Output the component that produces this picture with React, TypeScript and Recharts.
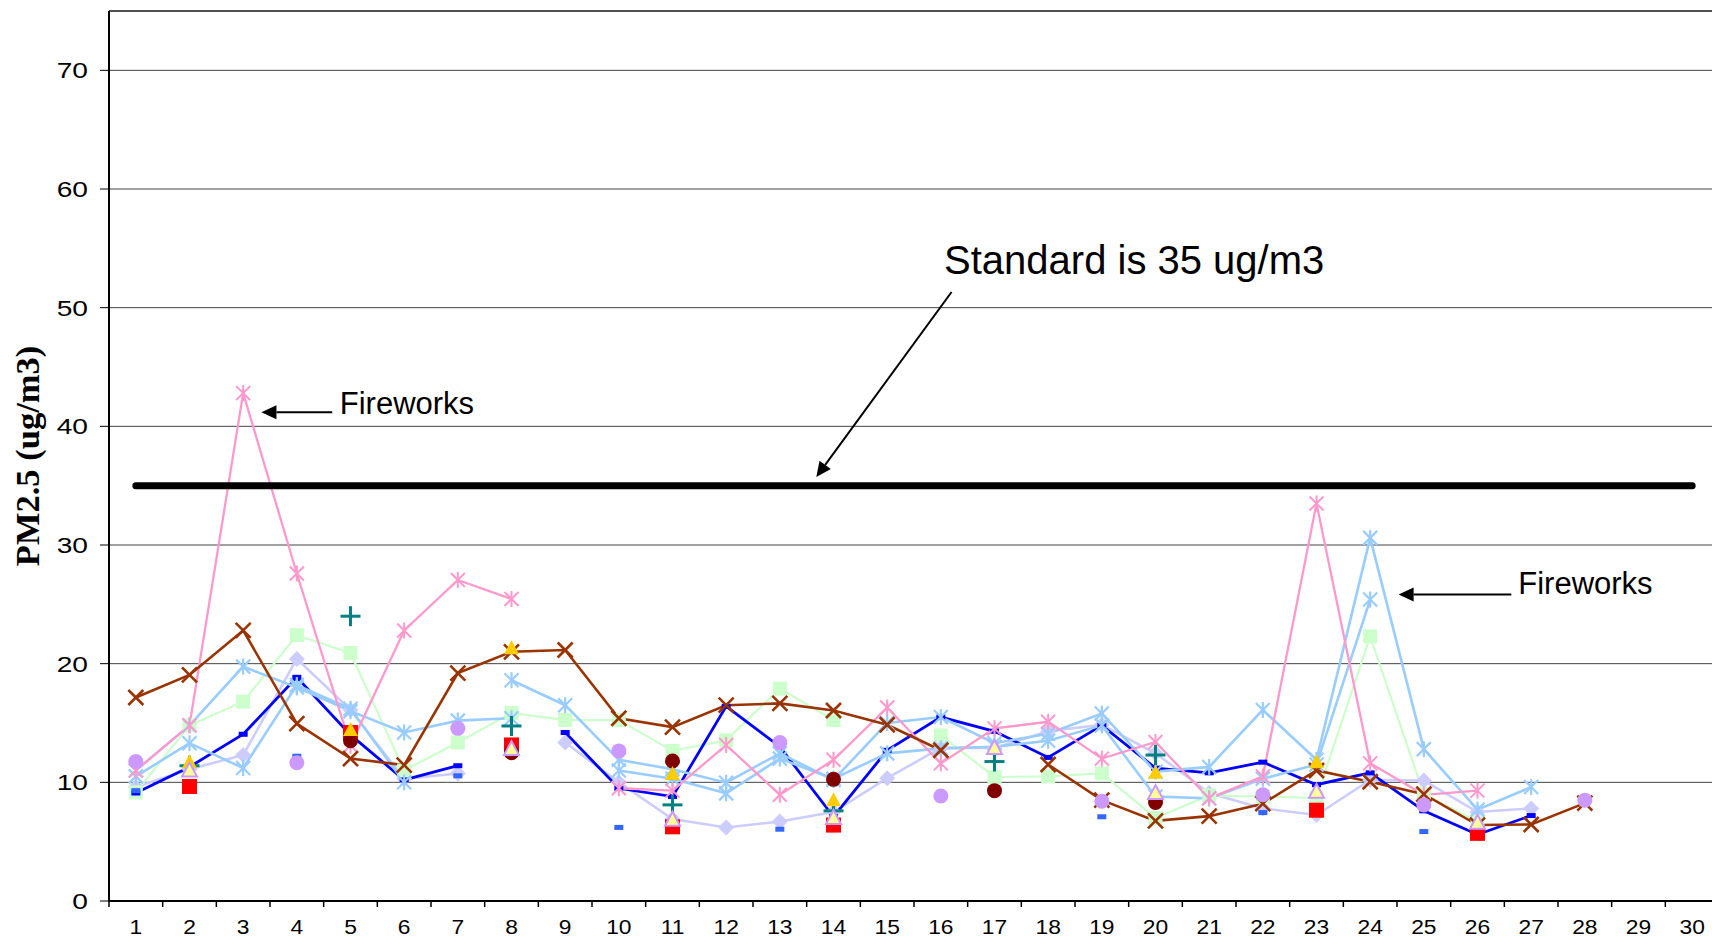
import React from 'react';
import { LineChart, Line, XAxis, YAxis, CartesianGrid, ReferenceLine, ReferenceDot } from 'recharts';

// ---------- data ----------
const days = [1, 2, 3, 4, 5, 6, 7, 8, 9, 10, 11, 12, 13, 14, 15, 16, 17, 18, 19, 20, 21, 22, 23, 24, 25, 26, 27, 28, 29, 30];
const yTicks = [0, 10, 20, 30, 40, 50, 60, 70];
const standardValue = 35;

const siteDarkBlue = [9.1, 11.3, 14.05, 18.85, 14.0, 10.2, 11.4, null, 14.2, 9.5, 8.8, 16.4, 13.0, 7.1, 12.7, 15.5, 14.3, 12.1, 14.8, 11.2, 10.8, 11.7, 9.8, 10.8, 7.6, 5.6, 7.2, null, null, null];
const sitePink = [11.0, 14.8, 42.8, 27.6, 13.1, 22.8, 27.05, 25.45, null, 9.5, 9.3, 13.15, 8.95, 11.9, 16.3, 11.6, 14.55, 15.1, 12.0, 13.4, 8.65, 10.5, 33.5, 11.6, 8.95, 9.3, null, null, null, null];
const siteBrown = [17.15, 19.05, 22.8, 14.95, 12.0, 11.45, 19.2, 21.0, 21.15, 15.4, 14.65, 16.5, 16.65, 16.05, 14.85, 12.7, null, 11.5, 8.5, 6.75, 7.15, 8.2, 11.0, 10.05, 9.0, 6.4, 6.45, 8.25, null, null];
const siteGreen = [9.15, 14.8, 16.8, 22.4, 20.9, 11.0, 13.35, 15.85, 15.25, 15.25, 12.65, 13.55, 17.9, 15.25, null, 13.95, 10.45, 10.5, 10.75, 7.0, 8.9, 8.8, 8.7, 22.3, 9.0, 6.7, null, null, null, null];
const siteLavender = [9.6, 11.1, 12.3, 20.4, 16.1, 10.3, 10.75, null, 13.35, 10.0, 6.9, 6.2, 6.7, 7.5, 10.35, 12.9, 12.9, 14.3, 14.85, 12.45, 9.1, 7.8, 7.25, 10.2, 10.15, 7.5, 7.8, null, null, null];
const siteLightBlueA = [10.5, 13.3, 11.2, 18.2, 16.2, 10.0, null, 18.6, 16.5, 11.9, 11.1, 9.97, 12.44, 10.2, 15.0, 15.5, 13.3, 14.1, 15.8, 10.9, 11.3, 16.1, 11.9, 30.6, 12.8, 7.7, 9.6, null, null, null];
const siteLightBlueB = [11.0, 14.8, 19.75, 18.0, 16.0, 14.2, 15.2, 15.4, null, 11.0, 10.3, 9.07, 12.0, 10.3, 12.44, 12.86, 13.0, 13.5, 14.8, 8.8, 8.65, 10.3, 11.5, 25.4, null, null, null, null, null, null];
const siteBlueDash = [9.3, null, null, 12.2, null, null, 10.55, null, null, 6.2, null, null, 6.05, null, null, 8.95, null, null, 7.1, null, null, 7.45, null, null, 5.85, null, null, null, null, null];
const siteRed = [null, 9.65, null, null, 14.2, null, null, 13.15, null, null, 6.25, null, null, 6.4, null, null, null, null, null, null, null, null, 7.65, null, null, 5.7, null, null, null, null];
const siteMaroon = [null, null, null, null, 13.5, null, null, 12.5, null, null, 11.8, null, null, 10.25, null, null, 9.3, null, null, 8.3, null, null, null, null, null, null, null, null, null, null];
const siteGold = [null, 11.7, null, null, 14.4, null, null, 21.3, null, null, 10.7, null, null, 8.5, null, null, null, null, null, 10.8, null, null, 11.7, null, null, null, null, null, null, null];
const siteTeal = [null, 11.4, null, null, 24.0, null, null, 14.75, null, null, 8.1, null, null, 7.6, null, null, 11.75, null, null, 12.3, null, null, null, null, null, null, null, null, null, null];
const siteLavTriangle = [null, 11.0, null, null, null, null, null, 12.8, null, null, 6.85, null, null, 7.0, null, null, 12.9, null, null, 9.1, null, null, 9.2, null, null, 6.6, null, null, null, null];
const sitePurple = [11.75, null, null, 11.65, null, null, 14.55, null, null, 12.65, null, null, 13.35, null, null, 8.85, null, null, 8.4, null, null, 8.95, null, null, 8.1, null, null, 8.5, null, null];

// annotations, in data coordinates (day, value)
const annotationTexts = [
  { text: 'Standard is 35 ug/m3', day: 16.06, value: 52.87, size: 40 },
  { text: 'Fireworks', day: 4.8, value: 41.07, size: 31 },
  { text: 'Fireworks', day: 26.76, value: 25.9, size: 31 },
];
const annotationArrows = [
  { fromDay: 16.2, fromValue: 51.32, toDay: 13.68, toValue: 35.73 },
  { fromDay: 4.66, fromValue: 41.18, toDay: 3.34, toValue: 41.18 },
  { fromDay: 26.63, fromValue: 25.82, toDay: 24.53, toValue: 25.82 },
];

const data = days.map((d, i) => ({
  day: d,
  lavender: siteLavender[i],
  green: siteGreen[i],
  lightBlueB: siteLightBlueB[i],
  lightBlueA: siteLightBlueA[i],
  darkBlue: siteDarkBlue[i],
  pink: sitePink[i],
  brown: siteBrown[i],
  red: siteRed[i],
  maroon: siteMaroon[i],
  teal: siteTeal[i],
  gold: siteGold[i],
  lavTri: siteLavTriangle[i],
  blueDash: siteBlueDash[i],
  purple: sitePurple[i],
}));

// ---------- layout ----------
const CHART_W = 1719;
const CHART_H = 938;
const Y_AXIS_W = 109;
const X_AXIS_H = 37;
const TOP = 11;
const PLOT_W = CHART_W - Y_AXIS_W;
const BAND = PLOT_W / days.length;
const SANS = "'Liberation Sans', Arial, sans-serif";
const SERIF = "'Liberation Serif', 'Times New Roman', serif";

// ---------- markers ----------
type Draw = (x: number, y: number) => React.ReactNode;
const makeDot = (name: string, draw: Draw) => (props: any) => {
  const { cx, cy, index, value } = props;
  const k = `${name}-${index}`;
  if (value === null || value === undefined || cx == null || cy == null || isNaN(cx) || isNaN(cy)) return <g key={k} />;
  return <g key={k}>{draw(cx, cy)}</g>;
};

const asterisk = (c: string, h = 7, w = 2): Draw => (x, y) => (
  <g stroke={c} strokeWidth={w}>
    <line x1={x - h} y1={y - h} x2={x + h} y2={y + h} />
    <line x1={x - h} y1={y + h} x2={x + h} y2={y - h} />
    <line x1={x} y1={y - h - 1} x2={x} y2={y + h + 1} />
  </g>
);
const cross = (c: string, h = 7.5, w = 2.6): Draw => (x, y) => (
  <g stroke={c} strokeWidth={w}>
    <line x1={x - h} y1={y - h} x2={x + h} y2={y + h} />
    <line x1={x - h} y1={y + h} x2={x + h} y2={y - h} />
  </g>
);
const square = (c: string, s = 15): Draw => (x, y) => <rect x={x - s / 2} y={y - s / 2} width={s} height={s} fill={c} />;
const diamond = (c: string, h = 8): Draw => (x, y) => (
  <polygon points={`${x},${y - h} ${x + h},${y} ${x},${y + h} ${x - h},${y}`} fill={c} />
);
const circle = (c: string, r = 7.5): Draw => (x, y) => <circle cx={x} cy={y} r={r} fill={c} />;
const triangle = (fill: string, stroke = 'none', sw = 0): Draw => (x, y) => (
  <polygon points={`${x},${y - 8} ${x + 7.5},${y + 6} ${x - 7.5},${y + 6}`} fill={fill} stroke={stroke} strokeWidth={sw} />
);
const plus = (c: string, h = 10, w = 3): Draw => (x, y) => (
  <g stroke={c} strokeWidth={w}>
    <line x1={x - h} y1={y} x2={x + h} y2={y} />
    <line x1={x} y1={y - h} x2={x} y2={y + h} />
  </g>
);
const dash = (c: string): Draw => (x, y) => <rect x={x - 4.5} y={y - 2.5} width={9} height={5} fill={c} />;

// ---------- axis pieces ----------
const renderYTick = (props: any) => {
  const { x, y, payload } = props;
  return (
    <text transform={`translate(${x},${y}) scale(1.28,1)`} textAnchor="end" dy="0.36em" fontFamily={SANS} fontSize={22} fill="#000">
      {payload.value}
    </text>
  );
};

const renderXTick = (props: any) => {
  const { x, y, payload } = props;
  const bx = x - BAND / 2;
  return (
    <g>
      <line x1={bx} y1={y} x2={bx} y2={y + 6} stroke="#000" strokeWidth={1.5} />
      <text transform={`translate(${x},${y + 33}) scale(1.17,1)`} textAnchor="middle" fontFamily={SANS} fontSize={19.5} fill="#000">
        {payload.value}
      </text>
    </g>
  );
};

const renderYLabel = (props: any) => {
  const vb = props.viewBox || { x: 0, y: TOP, width: Y_AXIS_W, height: CHART_H - TOP - X_AXIS_H };
  const cx = vb.x + 39;
  const cy = vb.y + vb.height / 2;
  return (
    <text x={cx} y={cy} transform={`rotate(-90 ${cx} ${cy})`} textAnchor="middle" fontFamily={SERIF} fontWeight="bold" fontSize={34.5} fill="#000">
      PM2.5 (ug/m3)
    </text>
  );
};

const arrowShape = (props: any) => {
  const { x1, y1, x2, y2 } = props;
  const ang = Math.atan2(y2 - y1, x2 - x1);
  const L = 15;
  const W = 7;
  const bx = x2 - L * Math.cos(ang);
  const by = y2 - L * Math.sin(ang);
  const p1x = bx + W * Math.sin(ang);
  const p1y = by - W * Math.cos(ang);
  const p2x = bx - W * Math.sin(ang);
  const p2y = by + W * Math.cos(ang);
  return (
    <g>
      <line x1={x1} y1={y1} x2={bx} y2={by} stroke="#000" strokeWidth={2} />
      <polygon points={`${x2},${y2} ${p1x},${p1y} ${p2x},${p2y}`} fill="#000" />
    </g>
  );
};

const standardShape = (props: any) => {
  const { x1, y1, x2, y2 } = props;
  return <line x1={x1} y1={y1} x2={x2} y2={y2} stroke="#000" strokeWidth={7} strokeLinecap="round" />;
};

export default function App() {
  return (
    <div style={{ position: 'absolute', left: 0, top: 0, width: 1712, height: 938, overflow: 'hidden', background: '#fff' }}>
      <LineChart width={CHART_W} height={CHART_H} data={data} margin={{ top: TOP, right: 0, bottom: 0, left: 0 }}>
        <CartesianGrid vertical={false} stroke="#444" strokeWidth={1} />
        <XAxis
          dataKey="day"
          type="number"
          domain={[0.5, 30.5]}
          ticks={days}
          interval={0}
          allowDataOverflow
          height={X_AXIS_H}
          tickSize={0}
          tickMargin={0}
          tickLine={false}
          axisLine={{ stroke: '#000', strokeWidth: 2 }}
          tick={renderXTick}
        />
        <YAxis
          type="number"
          domain={[0, 75]}
          ticks={yTicks}
          interval={0}
          width={Y_AXIS_W}
          tickSize={9}
          tickMargin={12}
          tickLine={{ stroke: '#000', strokeWidth: 1 }}
          axisLine={{ stroke: '#000', strokeWidth: 2 }}
          tick={renderYTick}
          label={renderYLabel}
        />
        <ReferenceLine y={75} stroke="#000" strokeWidth={1} />

        <Line dataKey="lavender" type="linear" stroke="#CCCCFF" strokeWidth={2.6} dot={makeDot('lav', diamond('#CCCCFF'))} activeDot={false} isAnimationActive={false} />
        <Line dataKey="green" type="linear" stroke="#CCFFCC" strokeWidth={2.2} dot={makeDot('grn', square('#CCFFCC', 14))} activeDot={false} isAnimationActive={false} />
        <Line dataKey="darkBlue" type="linear" stroke="#0000FF" strokeWidth={2.8} dot={makeDot('dbl', dash('#0000FF'))} activeDot={false} isAnimationActive={false} />
        <Line dataKey="lightBlueB" type="linear" stroke="#99CCFF" strokeWidth={2.6} dot={makeDot('lbb', asterisk('#99CCFF', 7, 2.2))} activeDot={false} isAnimationActive={false} />
        <Line dataKey="lightBlueA" type="linear" stroke="#99CCFF" strokeWidth={2.6} dot={makeDot('lba', asterisk('#99CCFF', 7, 2.2))} activeDot={false} isAnimationActive={false} />
        <Line dataKey="pink" type="linear" stroke="#FF99CC" strokeWidth={2.3} dot={makeDot('pnk', asterisk('#FF99CC', 7, 2))} activeDot={false} isAnimationActive={false} />
        <Line dataKey="brown" type="linear" stroke="#993300" strokeWidth={2.6} dot={makeDot('brn', cross('#993300'))} activeDot={false} isAnimationActive={false} />
        <Line dataKey="red" type="linear" stroke="none" dot={makeDot('red', square('#FF0000', 15))} activeDot={false} isAnimationActive={false} />
        <Line dataKey="maroon" type="linear" stroke="none" dot={makeDot('mar', circle('#800000'))} activeDot={false} isAnimationActive={false} />
        <Line dataKey="teal" type="linear" stroke="none" dot={makeDot('tea', plus('#008080'))} activeDot={false} isAnimationActive={false} />
        <Line dataKey="gold" type="linear" stroke="none" dot={makeDot('gld', triangle('#FFCC00'))} activeDot={false} isAnimationActive={false} />
        <Line dataKey="lavTri" type="linear" stroke="none" dot={makeDot('ltr', triangle('#FFFF99', '#CC99FF', 2))} activeDot={false} isAnimationActive={false} />
        <Line dataKey="blueDash" type="linear" stroke="none" dot={makeDot('bds', dash('#3366FF'))} activeDot={false} isAnimationActive={false} />
        <Line dataKey="purple" type="linear" stroke="none" dot={makeDot('pur', circle('#CC99FF'))} activeDot={false} isAnimationActive={false} />

        <ReferenceLine
          segment={[{ x: days[0], y: standardValue }, { x: days[days.length - 1], y: standardValue }]}
          shape={standardShape}
        />
        {annotationArrows.map((a, i) => (
          <ReferenceLine
            key={`arrow-${i}`}
            segment={[{ x: a.fromDay, y: a.fromValue }, { x: a.toDay, y: a.toValue }]}
            shape={arrowShape}
          />
        ))}
        {annotationTexts.map((a, i) => (
          <ReferenceDot
            key={`text-${i}`}
            x={a.day}
            y={a.value}
            r={0}
            shape={(p: any) => (
              <text x={p.cx} y={p.cy} fontFamily={SANS} fontSize={a.size} fill="#000">
                {a.text}
              </text>
            )}
          />
        ))}
      </LineChart>
    </div>
  );
}
